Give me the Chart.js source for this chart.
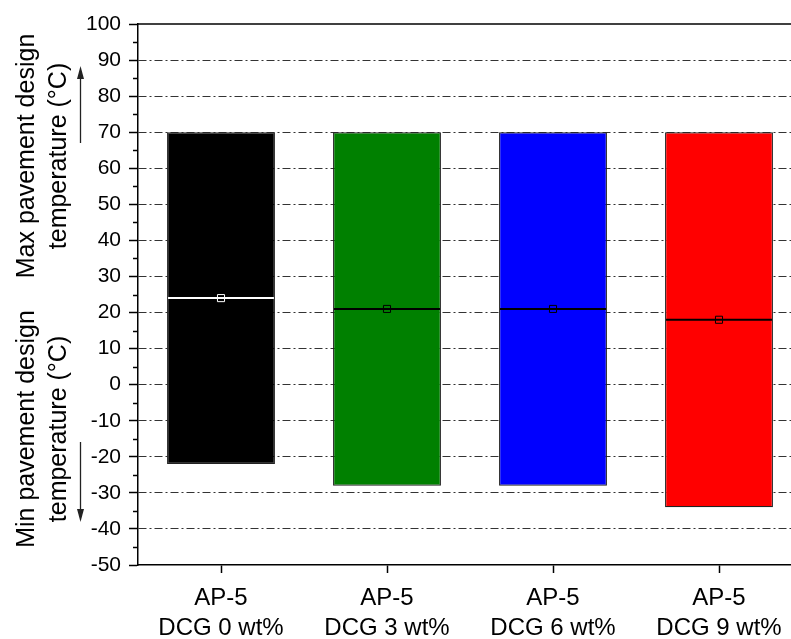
<!DOCTYPE html>
<html>
<head>
<meta charset="utf-8">
<script src="https://cdn.jsdelivr.net/npm/chart.js@4/dist/chart.umd.min.js"></script>
<style>
  html, body { margin: 0; padding: 0; background: #fff; overflow: hidden; }
  canvas { display: block; }
</style>
</head>
<body>
<canvas id="chart-suhu" width="808" height="639"></canvas>
<script>
// data rentang suhu desain perkerasan per sampel
var kategori = [['AP-5', 'DCG 0 wt%'], ['AP-5', 'DCG 3 wt%'], ['AP-5', 'DCG 6 wt%'], ['AP-5', 'DCG 9 wt%']];
var suhuMin = [-22, -28, -28, -34];
var suhuMax = [70, 70, 70, 70];
var median = [24, 21, 21, 18];
var warnaBar = ['#000000', '#008000', '#0000ff', '#ff0000'];
var warnaMedian = ['#ffffff', '#000000', '#000000', '#000000'];

var FONT = 'Arial, "Liberation Sans", sans-serif';
Chart.defaults.font.family = FONT;
Chart.defaults.color = '#000';

// garis median di tiap bar, digambar tepat setelah bar
var pluginMedian = {
  id: 'garisMedian',
  afterDatasetDraw: function(chart, args) {
    if (args.index !== 0) return;
    var ctx = chart.ctx;
    var y = chart.scales.y;
    chart.getDatasetMeta(0).data.forEach(function(bar, i) {
      var py = y.getPixelForValue(median[i]);
      ctx.save();
      ctx.strokeStyle = warnaMedian[i];
      ctx.lineWidth = 2;
      ctx.beginPath();
      ctx.moveTo(bar.x - bar.width / 2 + 1, py);
      ctx.lineTo(bar.x + bar.width / 2 - 1, py);
      ctx.stroke();
      ctx.restore();
    });
  }
};

// tick minor, garis atas, judul sumbu y + panah
var pluginHiasan = {
  id: 'hiasan',
  afterDraw: function(chart) {
    var ctx = chart.ctx;
    var area = chart.chartArea;
    var y = chart.scales.y;
    ctx.save();
    ctx.strokeStyle = '#000';
    ctx.lineWidth = 1.5;
    for (var v = -45; v < 100; v += 10) {
      var py = Math.round(y.getPixelForValue(v)) + 0.5;
      ctx.beginPath();
      ctx.moveTo(area.left - 5, py);
      ctx.lineTo(area.left, py);
      ctx.stroke();
    }
    // garis batas atas
    ctx.beginPath();
    ctx.moveTo(area.left, area.top);
    ctx.lineTo(area.right, area.top);
    ctx.stroke();

    // judul sumbu y (dua blok)
    ctx.fillStyle = '#000';
    ctx.font = '25px ' + FONT;
    ctx.textAlign = 'center';
    ctx.textBaseline = 'middle';
    function judul(cy, baris1, baris2) {
      ctx.save();
      ctx.translate(0, cy);
      ctx.rotate(-Math.PI / 2);
      ctx.fillText(baris1, 0, 27);
      ctx.fillText(baris2, 0, 59);
      ctx.restore();
    }
    judul(156, 'Max pavement design', 'temperature (\u00B0C)');
    judul(429, 'Min pavement design', 'temperature (\u00B0C)');

    // panah naik & turun
    ctx.strokeStyle = '#222';
    ctx.fillStyle = '#222';
    ctx.lineWidth = 1.3;
    function panah(x, y0, y1) {
      var arah = y1 < y0 ? -1 : 1;
      ctx.beginPath();
      ctx.moveTo(x, y0);
      ctx.lineTo(x, y1 - arah * 12);
      ctx.stroke();
      ctx.beginPath();
      ctx.moveTo(x, y1);
      ctx.lineTo(x - 3.5, y1 - arah * 13);
      ctx.lineTo(x + 3.5, y1 - arah * 13);
      ctx.closePath();
      ctx.fill();
    }
    panah(80.5, 143, 66);
    panah(80.5, 442, 522);
    ctx.restore();
  }
};

new Chart(document.getElementById('chart-suhu'), {
  type: 'bar',
  data: {
    labels: kategori,
    datasets: [{
      type: 'bar',
      order: 1,
      data: suhuMin.map(function(mn, i) { return [mn, suhuMax[i]]; }),
      backgroundColor: warnaBar,
      borderColor: '#222',
      borderWidth: 1.2,
      borderSkipped: false,
      barPercentage: 0.65,
      categoryPercentage: 1
    }, {
      type: 'line',
      order: 0,
      data: median,
      showLine: false,
      pointStyle: 'rect',
      pointRadius: 5,
      pointBorderWidth: 1,
      pointBackgroundColor: 'rgba(0,0,0,0)',
      pointBorderColor: warnaMedian
    }]
  },
  options: {
    responsive: false,
    animation: false,
    events: [],
    layout: { padding: { top: 24, left: 0, right: 0, bottom: 0 } },
    plugins: { legend: { display: false }, tooltip: { enabled: false } },
    scales: {
      x: {
        afterFit: function(s) { s.height = 74; },
        grid: { display: true, drawOnChartArea: false, offset: false, tickLength: 8, tickColor: '#000', tickWidth: 1.5 },
        border: { display: true, color: '#000', width: 1.5 },
        ticks: { font: { size: 24, lineHeight: 1.25 }, padding: 10, maxRotation: 0, autoSkip: false }
      },
      y: {
        min: -50,
        max: 100,
        afterFit: function(s) { s.width = 138; },
        ticks: { stepSize: 10, font: { size: 21 }, padding: 8 },
        grid: {
          color: function(c) {
            var v = c.tick.value;
            return (v === -50 || v === 100) ? 'rgba(0,0,0,0)' : '#333';
          },
          lineWidth: 1,
          tickLength: 9,
          tickColor: '#000',
          tickWidth: 1.5
        },
        border: { display: true, color: '#000', width: 1.5, dash: [8, 3, 2, 3] }
      }
    }
  },
  plugins: [pluginMedian, pluginHiasan]
});
</script>
</body>
</html>
